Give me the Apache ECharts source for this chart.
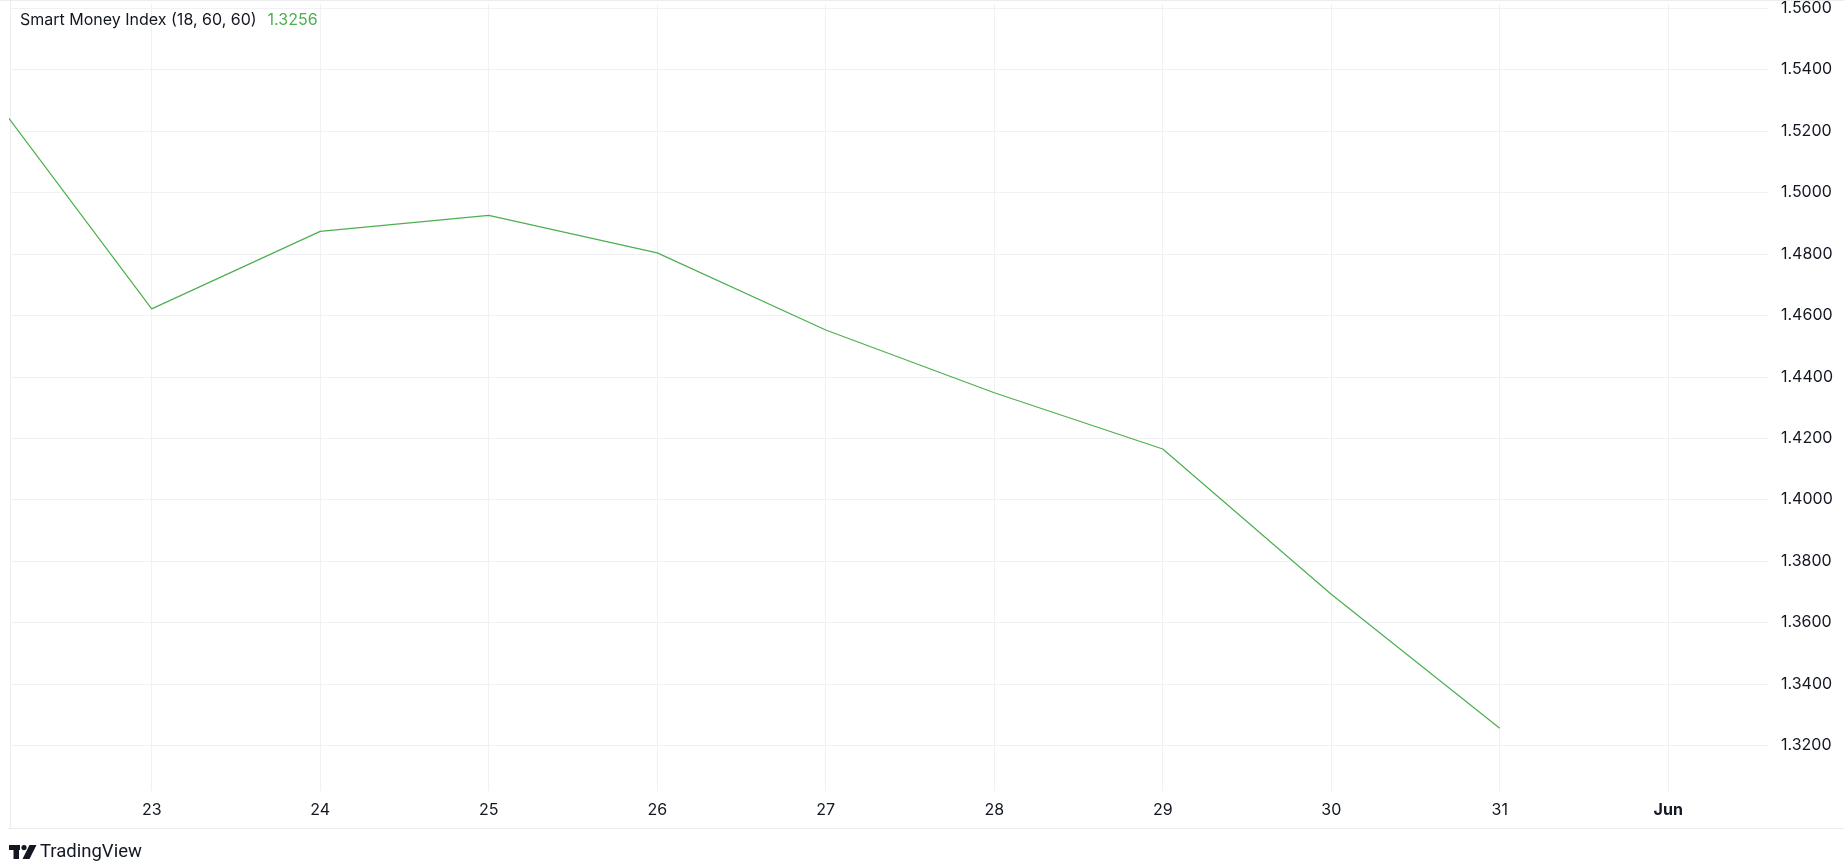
<!DOCTYPE html>
<html>
<head>
<meta charset="utf-8">
<title>Smart Money Index</title>
<script src="https://cdn.jsdelivr.net/npm/echarts@6/dist/echarts.min.js"></script>
<style>
  html, body { margin: 0; padding: 0; background: #ffffff; }
  #chart { width: 1844px; height: 863px; }
</style>
</head>
<body>
<div id="chart"></div>
<script>
// ---- data ----
const seriesName = 'Smart Money Index (18, 60, 60)';
const days = [22, 23, 24, 25, 26, 27, 28, 29, 30, 31];            // May days (22 lies just off the left edge)
const smiValues = [1.5352, 1.4621, 1.4873, 1.4925, 1.4803, 1.4552, 1.4348, 1.4165, 1.3692, 1.3256];
const xTickDays = [23, 24, 25, 26, 27, 28, 29, 30, 31, 32];
const xTickLabels = ['23', '24', '25', '26', '27', '28', '29', '30', '31', 'Jun'];
const yTickValues = [1.32, 1.34, 1.36, 1.38, 1.40, 1.42, 1.44, 1.46, 1.48, 1.50, 1.52, 1.54, 1.56];
const xRange = [22.159, 32.592];
const yRange = [1.3052, 1.5613];

const lineColor = '#4caf50';
const textColor = '#131722';
const gridColor = '#f0f1f3';
const frameColor = '#ececec';
const fontFamily = 'Inter, "Noto Sans", Roboto, sans-serif';

const seriesData = days.map((d, i) => [d, smiValues[i]]);
const labelMap = {};
xTickDays.forEach((d, i) => { labelMap[d] = xTickLabels[i]; });
const lastValue = smiValues[smiValues.length - 1];

const chart = echarts.init(document.getElementById('chart'), null, { renderer: 'canvas' });

const option = {
  backgroundColor: '#ffffff',
  animation: false,
  textStyle: { fontFamily: fontFamily },
  title: {
    left: 20,
    top: 12,
    padding: 0,
    text: '{n|' + seriesName + '}{v|' + lastValue.toFixed(4) + '}',
    textStyle: {
      fontWeight: 'normal',
      rich: {
        n: { fontSize: 16, fontWeight: 'normal', color: textColor, fontFamily: fontFamily },
        v: { fontSize: 16, fontWeight: 'normal', color: lineColor, fontFamily: fontFamily, padding: [0, 0, 0, 11] }
      }
    }
  },
  grid: { left: 10, right: 76, top: 1, bottom: 72, containLabel: false },
  xAxis: {
    type: 'value',
    min: xRange[0],
    max: xRange[1],
    axisLine: { show: false },
    axisTick: { show: false, customValues: xTickDays },
    splitLine: { show: true, lineStyle: { color: gridColor, width: 1 } },
    axisLabel: {
      customValues: xTickDays,
      margin: 11,
      fontSize: 16,
      color: textColor,
      fontFamily: fontFamily,
      formatter: function (v) {
        const key = Math.round(v);
        const lab = labelMap[key];
        if (lab === undefined) return '';
        return /^\d+$/.test(lab) ? lab : '{b|' + lab + '}';
      },
      rich: { b: { fontWeight: 'bold', fontSize: 16, color: textColor, fontFamily: fontFamily } }
    }
  },
  yAxis: {
    type: 'value',
    position: 'right',
    min: yRange[0],
    max: yRange[1],
    scale: true,
    axisLine: { show: false },
    axisTick: { show: false, customValues: yTickValues },
    splitLine: { show: true, lineStyle: { color: gridColor, width: 1 } },
    axisLabel: {
      customValues: yTickValues,
      margin: 13,
      align: 'left',
      fontSize: 16,
      color: textColor,
      fontFamily: fontFamily,
      formatter: function (v) { return v.toFixed(4); }
    }
  },
  series: [{
    name: seriesName,
    type: 'line',
    data: seriesData,
    showSymbol: false,
    symbol: 'none',
    clip: true,
    lineStyle: { color: lineColor, width: 1.2 },
    itemStyle: { color: lineColor }
  }],
  graphic: [
    { type: 'line', shape: { x1: 10.5, y1: 0, x2: 10.5, y2: 828 }, style: { stroke: frameColor, lineWidth: 1 }, silent: true },
    { type: 'line', shape: { x1: 8, y1: 828.5, x2: 1844, y2: 828.5 }, style: { stroke: frameColor, lineWidth: 1 }, silent: true },
    { type: 'line', shape: { x1: 0, y1: 0.5, x2: 1844, y2: 0.5 }, style: { stroke: frameColor, lineWidth: 1 }, silent: true },
    // TradingView logo
    { type: 'rect', shape: { x: 9, y: 845, width: 11, height: 5 }, style: { fill: textColor }, silent: true },
    { type: 'rect', shape: { x: 13.5, y: 845, width: 5.5, height: 14 }, style: { fill: textColor }, silent: true },
    { type: 'circle', shape: { cx: 24, cy: 847.6, r: 2.6 }, style: { fill: textColor }, silent: true },
    { type: 'polygon', shape: { points: [[29.5, 845], [36.5, 845], [29.5, 859], [22.5, 859]] }, style: { fill: textColor }, silent: true },
    {
      type: 'text', x: 40, y: 852.5,
      style: { text: 'TradingView', fontSize: 18.5, fontFamily: 'Roboto, Inter, sans-serif', fill: textColor, verticalAlign: 'middle', textAlign: 'left' },
      silent: true
    }
  ]
};

chart.setOption(option);
</script>
</body>
</html>
